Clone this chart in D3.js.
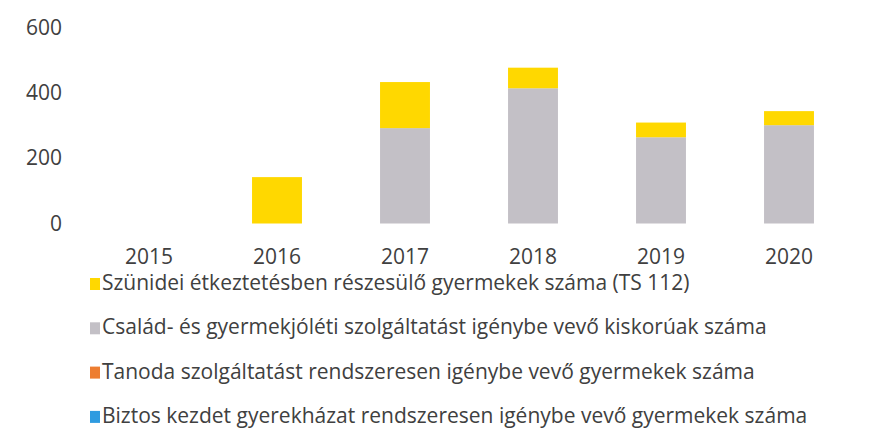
<!DOCTYPE html>
<html>
<head>
<meta charset="utf-8">
<script src="https://cdn.jsdelivr.net/npm/d3@7"></script>
<style>
  body { margin: 0; background: #fff; }
  text { font-family: "Open Sans", sans-serif; fill: #404040; }
</style>
</head>
<body>
<div id="chart"></div>
<script>
// Chart data
var years = ["2015", "2016", "2017", "2018", "2019", "2020"];
var szunidei = [0, 142, 141, 63, 45, 43];
var csalad = [0, 0, 292, 414, 264, 301];
var tanoda = [0, 0, 0, 0, 0, 0];
var biztos = [0, 0, 0, 0, 0, 0];
var yTicks = [0, 200, 400, 600];
var seriesNames = [
    "Szünidei étkeztetésben részesülő gyermekek száma (TS 112)",
    "Család- és gyermekjóléti szolgáltatást igénybe vevő kiskorúak száma",
    "Tanoda szolgáltatást rendszeresen igénybe vevő gyermekek száma",
    "Biztos kezdet gyerekházat rendszeresen igénybe vevő gyermekek száma"
];
var colors = ["#ffd800", "#c3c0c6", "#ed7d31", "#2e9be0"];

var width = 872, height = 444;
var fontSize = "21px";

var svg = d3.select("#chart").append("svg")
    .attr("width", width)
    .attr("height", height);

// Build table for stacking (bottom to top: biztos, tanoda, csalad, szunidei)
var keys = ["biztos", "tanoda", "csalad", "szunidei"];
var table = years.map(function (y, i) {
    return { year: y, biztos: biztos[i], tanoda: tanoda[i], csalad: csalad[i], szunidei: szunidei[i] };
});
var stacked = d3.stack().keys(keys)(table);
var keyColor = { szunidei: colors[0], csalad: colors[1], tanoda: colors[2], biztos: colors[3] };

var x = d3.scaleBand()
    .domain(years)
    .range([85, 853])
    .paddingInner(0.61)
    .paddingOuter(0.305);

var y = d3.scaleLinear()
    .domain([0, 600])
    .range([223.5, 27.5]);

// Bars
svg.append("g").selectAll("g")
    .data(stacked)
    .enter().append("g")
    .attr("fill", function (d) { return keyColor[d.key]; })
    .selectAll("rect")
    .data(function (d) { return d; })
    .enter().append("rect")
    .attr("x", function (d) { return x(d.data.year); })
    .attr("width", x.bandwidth())
    .attr("y", function (d) { return y(d[1]); })
    .attr("height", function (d) { return y(d[0]) - y(d[1]); });

// Y axis (labels only)
var yAxis = svg.append("g")
    .attr("transform", "translate(62,0)")
    .call(d3.axisLeft(y).tickValues(yTicks).tickSize(0).tickPadding(0));
yAxis.select(".domain").remove();
yAxis.selectAll("text")
    .style("font-size", fontSize)
    .style("font-family", "'Open Sans', sans-serif")
    .attr("fill", "#404040");

// X axis (labels only)
var xAxis = svg.append("g")
    .attr("transform", "translate(0,264)")
    .call(d3.axisBottom(x).tickSize(0).tickPadding(0));
xAxis.select(".domain").remove();
xAxis.selectAll("text")
    .attr("y", 0)
    .attr("dy", 0)
    .style("font-size", fontSize)
    .style("font-family", "'Open Sans', sans-serif")
    .attr("fill", "#404040");

// Legend
var legend = svg.append("g").selectAll("g")
    .data(seriesNames)
    .enter().append("g")
    .attr("transform", function (d, i) { return "translate(90," + (290 + i * 44.3) + ")"; });

legend.append("rect")
    .attr("x", 0)
    .attr("y", -12)
    .attr("width", 10)
    .attr("height", 12)
    .attr("fill", function (d, i) { return colors[i]; });

legend.append("text")
    .attr("x", 12)
    .attr("y", 0)
    .style("font-size", fontSize)
    .text(function (d) { return d; });
</script>
</body>
</html>
